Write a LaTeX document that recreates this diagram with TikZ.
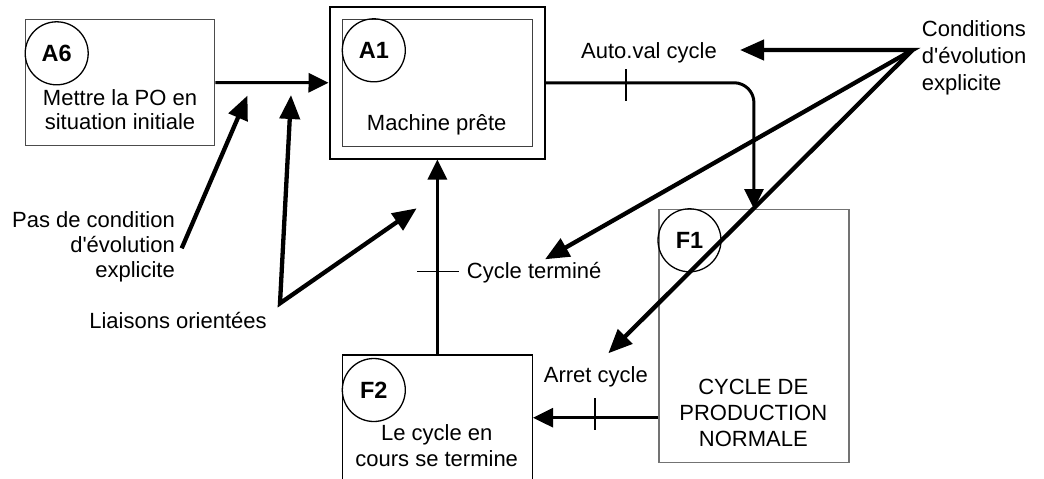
\documentclass[tikz,border=0pt]{standalone}
\usepackage{fontspec}
\setmainfont{Liberation Sans}
\usetikzlibrary{arrows.meta}
\tikzset{
  ctip/.tip={Triangle[length=20pt,width=19pt]},
  ptip/.tip={Triangle[length=24pt,width=20pt]}
}
\begin{document}
\begin{tikzpicture}[x=1pt,y=-1pt,
  txt/.style={font=\fontsize{22}{26}\selectfont, inner sep=0pt, align=center},
  lbl/.style={circle, draw, line width=1.3pt, minimum size=63pt, inner sep=0pt, font=\bfseries\fontsize{23.5}{28}\selectfont},
  box/.style={draw, rectangle, anchor=north west, inner sep=0pt, line width=1.3pt},
  conn/.style={line width=3pt, -ctip},
  ptr/.style={line width=4.3pt},
  tick/.style={line width=1.5pt}]
\useasboundingbox (0,0) rectangle (1044,479);
\clip (0,0) rectangle (1044,479);
% boxes
\node[box, draw=black!70, minimum width=189pt, minimum height=126pt] (A6) at (25,19) {};
\node[box, line width=2pt, minimum width=215.5pt, minimum height=151.5pt] (A1o) at (328.5,6) {};
\node[box, draw=black!75, minimum width=190pt, minimum height=126.7pt] (A1) at (341.7,19) {};
\node[box, draw=black!55, minimum width=190pt, minimum height=252.7pt] (F1) at (658.3,209) {};
\node[box, minimum width=190pt, minimum height=140pt] (F2) at (341.7,354.3) {};
% circles
\node[lbl] (cA6) at (56.7,53.3) {A6};
\node[lbl] (cA1) at (373.8,50.3) {A1};
\node[lbl] (cF1) at (689.5,240.3) {F1};
\node[lbl] (cF2) at (373.8,390) {F2};
% texts (base anchor = last line of multi-line nodes)
\node[txt, anchor=base, font=\fontsize{22}{24}\selectfont] (tA6) at (120,129) {Mettre la PO en\\situation initiale};
\node[txt, anchor=base] (tA1) at (436.7,130) {Machine prête};
\node[txt, anchor=base] (tF1) at (753.3,446.7) {CYCLE DE\\PRODUCTION\\NORMALE};
\node[txt, anchor=base] (tF2) at (436.7,466.5) {Le cycle en\\cours se termine};
\node[txt, anchor=base] (tauto) at (649,58.5) {Auto.val cycle};
\node[txt, anchor=base] (tarret) at (595.8,382.7) {Arret cycle};
\node[txt, anchor=base west] (tterm) at (466.7,278.3) {Cycle terminé};
\node[txt, anchor=base west, align=left, font=\fontsize{22}{27}\selectfont] (tcond) at (921.7,90) {Conditions\\d\textquotesingle évolution\\explicite};
\node[txt, anchor=base east, align=right, font=\fontsize{22}{25}\selectfont] (tpas) at (175,277) {Pas de condition\\d\textquotesingle évolution\\explicite};
\node[txt, anchor=base] (tliai) at (178,328) {Liaisons orientées};
% connectors
\draw[conn] (A6.east) -- (A1o.west);
\draw[conn, rounded corners=20pt] (A1o.east) -| (F1.north);
\draw[conn] (F2.north) -- (F2.north |- A1o.south);
\coordinate (arr) at (658.3,417.7);
\draw[conn] (arr) -- (arr -| F2.east);
% ticks
\draw[tick] (626,69) -- (626,101);
\draw[tick] (595,398.3) -- (595,430);
\draw[tick] (417.3,271.7) -- (459.3,271.7);
% pointers
\coordinate (cond) at (912.5,50);
\coordinate (autotip) at (740,50);
\coordinate (termtip) at (545,259.3);
\coordinate (arrtip) at (608.3,353.3);
\draw[ptr, ptip-ptip] (autotip) -- (cond) -- (termtip);
\draw[ptr, -ptip] (cond) -- (arrtip);
\coordinate (pastail) at (181.7,248.3);
\coordinate (pastip) at (247.5,95.5);
\draw[ptr, -ptip] (pastail) -- (pastip);
\coordinate (liai) at (280,303.3);
\coordinate (ltipa) at (291,95);
\coordinate (ltipb) at (416.7,208.3);
\draw[ptr, ptip-ptip] (ltipa) -- (liai) -- (ltipb);
\end{tikzpicture}
\end{document}
